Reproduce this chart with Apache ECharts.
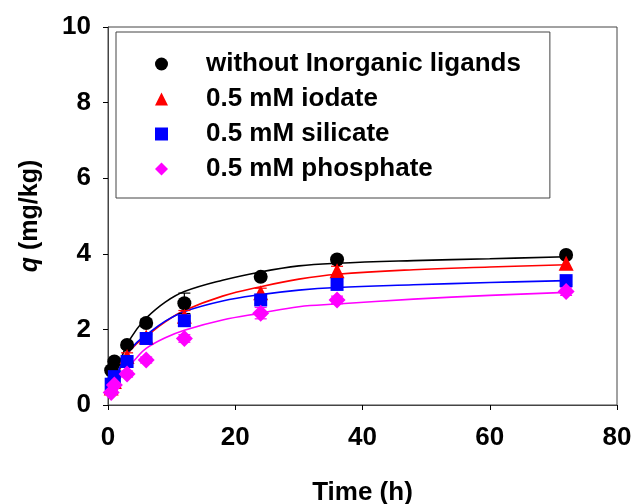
<!DOCTYPE html>
<html>
<head>
<meta charset="utf-8">
<script src="https://cdn.jsdelivr.net/npm/echarts@6/dist/echarts.min.js"></script>
<style>
  html, body { margin: 0; padding: 0; background: #fff; }
  #chart { width: 635px; height: 504px; }
</style>
</head>
<body>
<div id="chart"></div>
<script>
// measured points (h, mg/kg)
const times = [0.5, 1, 3, 6, 12, 24, 36, 72]
const qNone = [0.92, 1.15, 1.59, 2.17, 2.69, 3.39, 3.85, 3.97]
const qIodate = [0.45, 0.62, 1.28, 1.8, 2.35, 2.97, 3.55, 3.75]
const qSilicate = [0.55, 0.75, 1.15, 1.76, 2.23, 2.78, 3.19, 3.29]
const qPhosphate = [0.33, 0.53, 0.82, 1.19, 1.76, 2.43, 2.78, 3.0]
const errNone = [0.05, 0.06, 0.08, 0.1, 0.27, 0.08, 0.08, 0.08]
const errIodate = [0.05, 0.08, 0.1, 0.1, 0.15, 0.12, 0.12, 0.15]
const errSilicate = [0.05, 0.05, 0.08, 0.1, 0.12, 0.1, 0.08, 0.1]
const errPhosphate = [0.05, 0.05, 0.08, 0.08, 0.1, 0.15, 0.1, 0.1]

// fitted curves
const fitTimes = [0.5, 1, 2, 3, 4.5, 6, 9, 12, 18, 24, 30, 36, 48, 60, 72]
const fitNone = [0.3, 0.65, 1.2, 1.6, 2.0, 2.3, 2.72, 3.0, 3.3, 3.52, 3.68, 3.75, 3.82, 3.87, 3.92]
const fitIodate = [0.3, 0.55, 1.0, 1.33, 1.62, 1.82, 2.2, 2.5, 2.88, 3.13, 3.33, 3.46, 3.58, 3.65, 3.71]
const fitSilicate = [0.3, 0.6, 1.05, 1.35, 1.65, 1.85, 2.22, 2.47, 2.75, 2.92, 3.04, 3.11, 3.18, 3.24, 3.29]
const fitPhosphate = [0.25, 0.45, 0.75, 0.95, 1.25, 1.5, 1.78, 1.98, 2.25, 2.43, 2.6, 2.67, 2.8, 2.9, 2.98]

const xTicks = [0, 20, 40, 60, 80]
const yTicks = [0, 2, 4, 6, 8, 10]

const groups = [
  { name: 'without Inorganic ligands', color: '#000000', symbol: 'circle', size: 14, q: qNone, err: errNone, fit: fitNone },
  { name: '0.5 mM iodate', color: '#ff0000', symbol: 'triangle', size: 15, q: qIodate, err: errIodate, fit: fitIodate },
  { name: '0.5 mM silicate', color: '#0000ff', symbol: 'rect', size: 13, q: qSilicate, err: errSilicate, fit: fitSilicate },
  { name: '0.5 mM phosphate', color: '#ff00ff', symbol: 'diamond', size: 17, q: qPhosphate, err: errPhosphate, fit: fitPhosphate }
]

const font = '"Liberation Sans", Arial, sans-serif'
const chart = echarts.init(document.getElementById('chart'), null, { renderer: 'canvas' })

const series = []
groups.forEach((g) => {
  series.push({
    name: g.name + ' fit',
    type: 'line',
    data: fitTimes.map((t, i) => [t, g.fit[i]]),
    smooth: 0.4,
    showSymbol: false,
    lineStyle: { color: g.color, width: 1.6 },
    silent: true,
    z: 2
  })
})
groups.forEach((g) => {
  series.push({
    name: g.name + ' err',
    type: 'custom',
    data: times.map((t, i) => [t, g.q[i], g.err[i]]),
    renderItem: (params, api) => {
      const x = api.value(0), y = api.value(1), e = api.value(2)
      const top = api.coord([x, y + e])
      const bot = api.coord([x, y - e])
      const w = 6
      return {
        type: 'group',
        children: [
          { type: 'line', shape: { x1: top[0], y1: top[1], x2: bot[0], y2: bot[1] }, style: { stroke: g.color, lineWidth: 1.2 } },
          { type: 'line', shape: { x1: top[0] - w, y1: top[1], x2: top[0] + w, y2: top[1] }, style: { stroke: g.color, lineWidth: 1.2 } },
          { type: 'line', shape: { x1: bot[0] - w, y1: bot[1], x2: bot[0] + w, y2: bot[1] }, style: { stroke: g.color, lineWidth: 1.2 } }
        ]
      }
    },
    silent: true,
    z: 3
  })
  series.push({
    name: g.name,
    type: 'scatter',
    data: times.map((t, i) => [t, g.q[i]]),
    symbol: g.symbol,
    symbolSize: g.size,
    itemStyle: { color: g.color, opacity: 1 },
    z: 4
  })
})

chart.setOption({
  animation: false,
  backgroundColor: '#fff',
  grid: {
    left: 108, right: 18, top: 27, bottom: 99,
    outerBoundsMode: 'none',
    show: true, borderColor: '#444', borderWidth: 1
  },
  legend: {
    data: groups.map((g) => ({ name: g.name, icon: g.symbol })),
    orient: 'vertical',
    left: 116,
    top: 32,
    itemWidth: 13,
    itemHeight: 13,
    itemGap: 9,
    padding: [19, 29, 16, 39],
    borderColor: '#444',
    borderWidth: 1,
    selectedMode: false,
    textStyle: { fontFamily: font, fontWeight: 'bold', fontSize: 26, lineHeight: 26, color: '#000', padding: [0, 0, 0, 33] }
  },
  xAxis: {
    type: 'value',
    min: xTicks[0],
    max: xTicks[xTicks.length - 1],
    interval: 20,
    name: 'Time (h)',
    nameLocation: 'middle',
    nameGap: 75,
    nameTextStyle: { fontFamily: font, fontWeight: 'bold', fontSize: 26, color: '#000' },
    axisLine: { show: true, lineStyle: { color: '#444', width: 1 } },
    axisTick: { show: true, inside: false, length: 5, lineStyle: { color: '#000' } },
    axisLabel: { margin: 20, fontFamily: font, fontWeight: 'bold', fontSize: 26, color: '#000' },
    splitLine: { show: false }
  },
  yAxis: {
    type: 'value',
    min: yTicks[0],
    max: yTicks[yTicks.length - 1],
    interval: 2,
    name: '{i|q} (mg/kg)',
    nameLocation: 'middle',
    nameGap: 65,
    nameRotate: 90,
    nameTextStyle: {
      fontFamily: font, fontWeight: 'bold', fontSize: 25, color: '#000',
      rich: { i: { fontFamily: font, fontWeight: 'bold', fontStyle: 'italic', fontSize: 25, color: '#000' } }
    },
    axisLine: { show: true, lineStyle: { color: '#444', width: 1 } },
    axisTick: { show: true, inside: false, length: 5, lineStyle: { color: '#000' } },
    axisLabel: { margin: 17, fontFamily: font, fontWeight: 'bold', fontSize: 26, color: '#000' },
    splitLine: { show: false }
  },
  series: series
})
</script>
</body>
</html>
